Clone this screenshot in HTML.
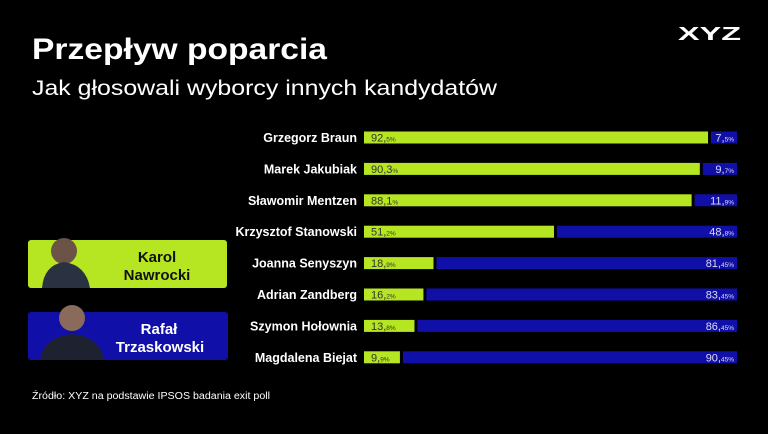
<!DOCTYPE html>
<html><head><meta charset="utf-8"><style>
body{margin:0;background:#000;width:768px;height:434px;overflow:hidden;font-family:"Liberation Sans",sans-serif;}
svg{display:block}
</style></head><body>
<svg width="768" height="434">
<text x="32" y="59" fill="#fff" font-size="30" font-weight="bold" textLength="295" lengthAdjust="spacingAndGlyphs">Przepływ poparcia</text>
<text x="32" y="95" fill="#fff" font-size="21" textLength="465" lengthAdjust="spacingAndGlyphs">Jak głosowali wyborcy innych kandydatów</text>
<text x="678" y="40" fill="#fff" font-size="18" font-weight="bold" textLength="63" lengthAdjust="spacingAndGlyphs">XYZ</text>
<g>
<rect x="28" y="240" width="199" height="48" rx="3" fill="#b6e521"/>
<circle cx="64" cy="251" r="13" fill="#6b5347"/><path d="M42 288 Q44 265 64 262 Q86 265 90 288Z" fill="#2a3140"/>
<text x="157" y="262" font-size="15" font-weight="bold" fill="#111" text-anchor="middle">Karol</text>
<text x="157" y="280" font-size="15" font-weight="bold" fill="#111" text-anchor="middle">Nawrocki</text>
</g>
<g>
<rect x="28" y="312" width="200" height="48" rx="3" fill="#1010a8"/>
<circle cx="72" cy="318" r="13" fill="#8a6a5a"/><path d="M40 360 Q44 337 72 334 Q100 337 104 360Z" fill="#1e2230"/>
<text x="159" y="334" font-size="15" font-weight="bold" fill="#fff" text-anchor="middle">Rafał</text>
<text x="160" y="352" font-size="15" font-weight="bold" fill="#fff" text-anchor="middle">Trzaskowski</text>
</g>
<g id="bars"></g>
<text x="32" y="399" fill="#fff" font-size="10" textLength="238" lengthAdjust="spacingAndGlyphs">Źródło:  XYZ na podstawie IPSOS badania exit poll</text>
</svg>
<script>
const candidates=["Grzegorz Braun","Marek Jakubiak","Sławomir Mentzen","Krzysztof Stanowski","Joanna Senyszyn","Adrian Zandberg","Szymon Hołownia","Magdalena Biejat"];
const nawrocki=[92.5,90.3,88.1,51.2,18.9,16.2,13.8,9.9];
const nawLabels=["92,","90,3","88,1","51,","18,","16,","13,","9,"];
const nawSmall=["5%","%","%","2%","9%","2%","8%","9%"];
const trzaskowski=[7.5,9.7,11.9,48.8,81.45,83.45,86.45,90.45];
const trzLabels=["7,","9,","11,","48,","81,","83,","86,","90,"];
const trzSmall=["5%","7%","9%","8%","45%","45%","45%","45%"];
const X0=364,X1=737,Y0=137.5,DY=31.4,H=12;
const xs=v=>X0+v/100*(X1-X0);
const ys=i=>Y0+i*DY;
const g=document.getElementById('bars');
const NS="http://www.w3.org/2000/svg";
function mk(t,a){const e=document.createElementNS(NS,t);for(const k in a)e.setAttribute(k,a[k]);g.appendChild(e);return e;}
candidates.forEach((c,i)=>{
const y=ys(i);
const l=mk('text',{x:357,y:y+4.5,fill:'#fff','font-size':12.5,'font-weight':'bold','text-anchor':'end'});l.textContent=c;


const gx=xs(nawrocki[i]);
const r1=mk('rect',{x:X0,y:y-H/2,width:gx-X0-1,height:H,fill:'#b6e521'});


const bx=X1-(trzaskowski[i]/100)*(X1-X0);
const bs=Math.max(bx,gx+2);
const r2=mk('rect',{x:bs,y:y-H/2,width:X1-bs,height:H,fill:'#1010a8'});


const t1=mk('text',{x:X0+7,y:y+4,fill:'#333','font-size':11});
t1.innerHTML=nawLabels[i]+'<tspan font-size="6.5">'+nawSmall[i]+'</tspan>';


const t2=mk('text',{x:X1-3,y:y+4,fill:'#dde','font-size':11,'text-anchor':'end'});
t2.innerHTML=trzLabels[i]+'<tspan font-size="6.5">'+trzSmall[i]+'</tspan>';


});
</script>
</body></html>
